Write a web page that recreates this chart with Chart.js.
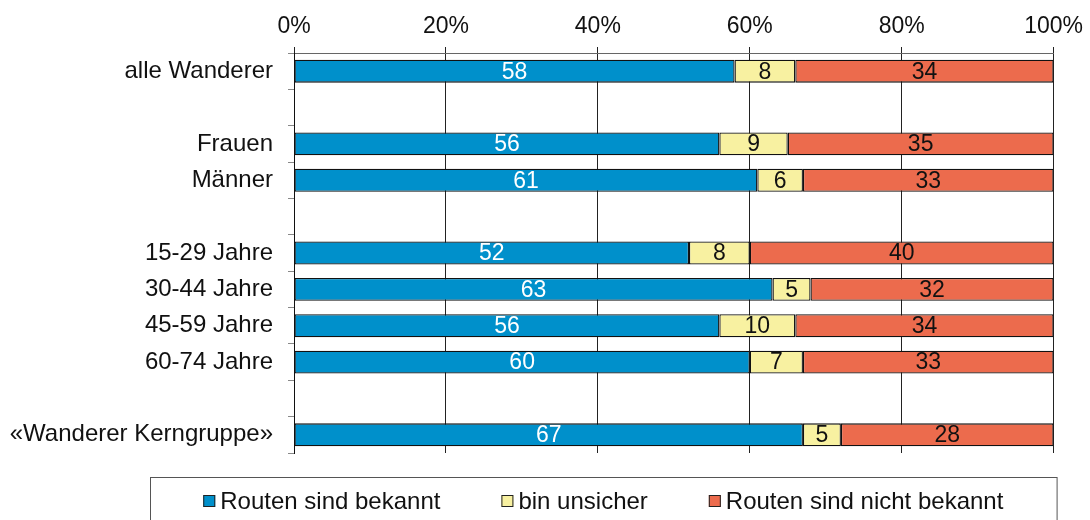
<!DOCTYPE html>
<html>
<head>
<meta charset="utf-8">
<script src="https://cdn.jsdelivr.net/npm/chart.js@4/dist/chart.umd.min.js"></script>
<style>
  body { margin: 0; background: #fff; }
  #routes-chart { display: block; }
</style>
</head>
<body>
<canvas id="routes-chart" width="1090" height="520"></canvas>
<script>
const categories = ['alle Wanderer', '', 'Frauen', 'Männer', '', '15-29 Jahre', '30-44 Jahre', '45-59 Jahre', '60-74 Jahre', '', '«Wanderer Kerngruppe»'];
const seriesNames = ['Routen sind bekannt', 'bin unsicher', 'Routen sind nicht bekannt'];
const known   = [58, null, 56, 61, null, 52, 63, 56, 60, null, 67];
const unsure  = [8, null, 9, 6, null, 8, 5, 10, 7, null, 5];
const unknown = [34, null, 35, 33, null, 40, 32, 34, 33, null, 28];
const xTicks  = [0, 20, 40, 60, 80, 100];

const FONT = '"Liberation Sans", Arial, sans-serif';
const colors = ['#0090CB', '#F8F1A1', '#EC6B4D'];
const labelColors = ['#ffffff', '#111111', '#111111'];

// value labels in the middle of each segment
const segmentLabels = {
    id: 'segmentLabels',
    afterDatasetsDraw(chart) {
        const ctx = chart.ctx;
        ctx.save();
        ctx.font = '23px ' + FONT;
        ctx.textAlign = 'center';
        ctx.textBaseline = 'middle';
        chart.data.datasets.forEach((ds, i) => {
            const meta = chart.getDatasetMeta(i);
            ctx.fillStyle = labelColors[i];
            meta.data.forEach((bar, j) => {
                const v = ds.data[j];
                if (v == null) return;
                ctx.fillText(String(v), (bar.x + bar.base) / 2, bar.y + 1);
            });
        });
        ctx.restore();
    }
};

// framed legend below the plot
const framedLegend = {
    id: 'framedLegend',
    afterDraw(chart) {
        const ctx = chart.ctx;
        const area = chart.chartArea;
        const left = 150, right = area.right + 3, top = area.bottom + 24;
        ctx.save();
        ctx.strokeStyle = '#555';
        ctx.lineWidth = 1;
        ctx.strokeRect(left + 0.5, top + 0.5, right - left, 80);

        ctx.font = '24px ' + FONT;
        ctx.textBaseline = 'middle';
        ctx.textAlign = 'left';
        const box = 12, gap = 5, spacing = 61;
        const items = chart.data.datasets.map(ds => ({
            label: ds.label,
            color: ds.backgroundColor,
            w: ctx.measureText(ds.label).width
        }));
        const total = items.reduce((s, it) => s + box + gap + it.w, 0) + spacing * (items.length - 1);
        let x = left + (right - left - total) / 2;
        const y = top + 24;
        items.forEach(it => {
            ctx.fillStyle = it.color;
            ctx.fillRect(x, y - box / 2, box, box);
            ctx.strokeStyle = '#222';
            ctx.strokeRect(x + 0.5, y - box / 2 + 0.5, box - 1, box - 1);
            ctx.fillStyle = '#111';
            ctx.fillText(it.label, x + box + gap, y + 1);
            x += box + gap + it.w + spacing;
        });
        ctx.restore();
    }
};

const ctx = document.getElementById('routes-chart');

new Chart(ctx, {
    type: 'bar',
    data: {
        labels: categories,
        datasets: [known, unsure, unknown].map((values, i) => ({
            label: seriesNames[i],
            data: values,
            backgroundColor: colors[i],
            borderColor: '#111',
            borderWidth: 1.3,
            borderSkipped: false,
            barPercentage: 0.63,
            categoryPercentage: 1
        }))
    },
    options: {
        indexAxis: 'y',
        responsive: false,
        animation: false,
        layout: {
            padding: { top: 0, left: 0, right: 34, bottom: 67 }
        },
        scales: {
            x: {
                position: 'top',
                stacked: true,
                min: 0,
                max: 100,
                afterBuildTicks: scale => {
                    scale.ticks = xTicks.map(v => ({ value: v }));
                },
                afterFit: scale => { scale.height = 53; },
                ticks: {
                    callback: v => v + '%',
                    font: { family: FONT, size: 23 },
                    color: '#111',
                    padding: 7
                },
                grid: {
                    color: '#222',
                    tickLength: 6
                },
                border: { color: '#666' }
            },
            y: {
                stacked: true,
                afterFit: scale => { scale.width = 294; },
                ticks: {
                    autoSkip: false,
                    font: { family: FONT, size: 24 },
                    color: '#111',
                    padding: 15
                },
                grid: {
                    offset: true,
                    tickLength: 6,
                    tickColor: '#888',
                    color: c => (c.index === 0 || c.index === categories.length) ? '#888' : 'rgba(0,0,0,0)'
                },
                border: { color: '#111' }
            }
        },
        plugins: {
            legend: { display: false },
            tooltip: { enabled: false }
        }
    },
    plugins: [segmentLabels, framedLegend]
});
</script>
</body>
</html>
